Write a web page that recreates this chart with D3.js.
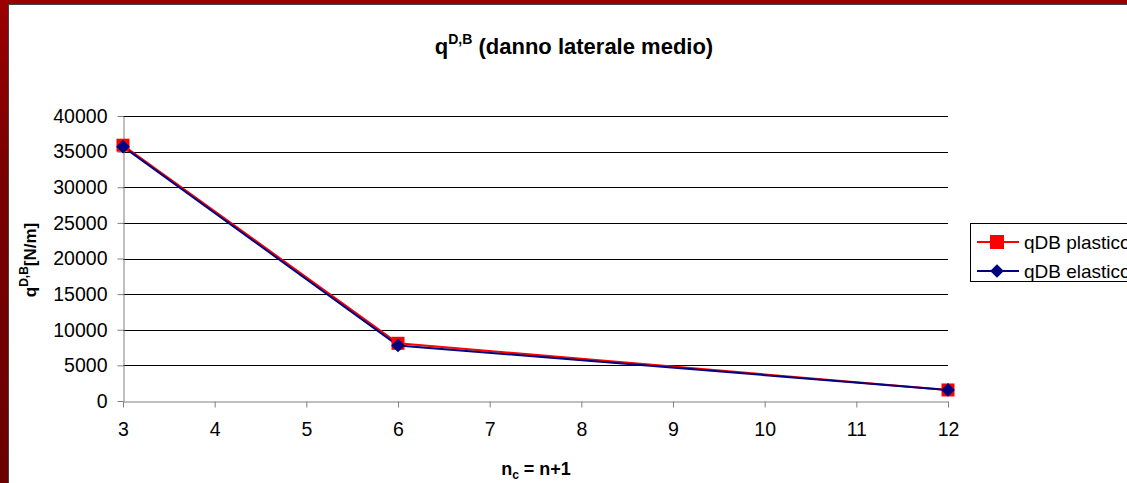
<!DOCTYPE html>
<html lang="en">
<head>
<meta charset="utf-8">
<title>qDB chart</title>
<script src="https://d3js.org/d3.v7.min.js"></script>
<style>
  body { margin: 0; background: #8b0000; overflow: hidden; }
  svg text { font-family: "Liberation Sans", Arial, sans-serif; }
</style>
</head>
<body>
<div id="chart"></div>
<script>
// data
var nValues = [3, 6, 12];
var qPlastico = [35900, 8100, 1550];
var qElastico = [35700, 7800, 1550];
var xTicks = [3, 4, 5, 6, 7, 8, 9, 10, 11, 12];
var yTicks = [0, 5000, 10000, 15000, 20000, 25000, 30000, 35000, 40000];
var seriesNames = ["qDB plastico", "qDB elastico"];

var W = 1127, H = 483;
var margin = {top: 116, right: 179, bottom: 82, left: 123},
    width = W - margin.left - margin.right,
    height = H - margin.top - margin.bottom;

var svg = d3.select("#chart").append("svg")
    .attr("width", W).attr("height", H);

// dark red frame, gradient down the side
var grad = svg.append("defs").append("linearGradient")
    .attr("id", "bg").attr("x1", 0).attr("y1", 0).attr("x2", 0).attr("y2", 1);
grad.append("stop").attr("offset", "0%").attr("stop-color", "#9a0000");
grad.append("stop").attr("offset", "35%").attr("stop-color", "#7a0000");
grad.append("stop").attr("offset", "100%").attr("stop-color", "#6a0000");
svg.append("rect").attr("width", W).attr("height", H).attr("fill", "url(#bg)");

// chart area
svg.append("rect")
    .attr("x", 8.5).attr("y", 4.5).attr("width", W).attr("height", H)
    .attr("fill", "#fff").attr("stroke", "#444").attr("stroke-width", 1);

var g = svg.append("g")
    .attr("transform", "translate(" + margin.left + "," + margin.top + ")");

var x = d3.scaleLinear().domain([3, 12]).range([0, width]);
var y = d3.scaleLinear().domain([0, 40000]).range([height, 0]);

// gridlines
g.selectAll(".grid").data(yTicks.filter(function(d){ return d > 0; }))
  .enter().append("line")
    .attr("x1", 0).attr("x2", width)
    .attr("y1", function(d){ return Math.round(y(d)) + 0.5; })
    .attr("y2", function(d){ return Math.round(y(d)) + 0.5; })
    .attr("stroke", "#000").attr("stroke-width", 1);

// axes
var yAxis = g.append("g")
    .attr("transform", "translate(0.5,0)")
    .call(d3.axisLeft(y).tickValues(yTicks).tickSize(6).tickSizeOuter(0).tickPadding(10)
      .tickFormat(d3.format("d")));
var xAxis = g.append("g")
    .attr("transform", "translate(0," + (height + 0.5) + ")")
    .call(d3.axisBottom(x).tickValues(xTicks).tickSize(6).tickSizeOuter(0).tickPadding(15)
      .tickFormat(d3.format("d")));
[yAxis, xAxis].forEach(function(a){
  a.select(".domain").attr("stroke", "#808080");
  a.selectAll(".tick line").attr("stroke", "#808080");
  a.selectAll(".tick text").attr("fill", "#000")
    .style("font-size", "19.5px").style("font-family", "Liberation Sans, Arial, sans-serif");
});

var line = d3.line()
    .x(function(d){ return x(d[0]); })
    .y(function(d){ return y(d[1]); });

var plastico = nValues.map(function(n, i){ return [n, qPlastico[i]]; });
var elastico = nValues.map(function(n, i){ return [n, qElastico[i]]; });

g.append("path").datum(plastico)
    .attr("fill", "none").attr("stroke", "#ff0000").attr("stroke-width", 2)
    .attr("d", line);
g.append("path").datum(elastico)
    .attr("fill", "none").attr("stroke", "#000080").attr("stroke-width", 2)
    .attr("d", line);

g.selectAll(".sq").data(plastico).enter().append("rect")
    .attr("x", function(d){ return x(d[0]) - 6.5; })
    .attr("y", function(d){ return y(d[1]) - 6.5; })
    .attr("width", 13).attr("height", 13)
    .attr("fill", "#ff0000");
var diamond = d3.symbol().type(d3.symbolDiamond2).size(120);
g.selectAll(".dm").data(elastico).enter().append("path")
    .attr("d", diamond)
    .attr("transform", function(d){ return "translate(" + x(d[0]) + "," + y(d[1]) + ")"; })
    .attr("fill", "#000080");

// title
var title = svg.append("text")
    .attr("x", 574).attr("y", 54)
    .attr("text-anchor", "middle")
    .style("font-size", "22px").style("font-weight", "bold");
title.append("tspan").text("q");
title.append("tspan").attr("dy", -10).style("font-size", "14px").text("D,B");
title.append("tspan").attr("dy", 10).text(" (danno laterale medio)");

// y label
var ylab = svg.append("text")
    .attr("transform", "translate(36,260) rotate(-90)")
    .attr("text-anchor", "middle")
    .style("font-size", "17px").style("font-weight", "bold");
ylab.append("tspan").text("q");
ylab.append("tspan").attr("dy", -8).style("font-size", "12px").text("D,B");
ylab.append("tspan").attr("dy", 8).text("[N/m]");

// x label
var xlab = svg.append("text")
    .attr("x", 536).attr("y", 475)
    .attr("text-anchor", "middle")
    .style("font-size", "18px").style("font-weight", "bold");
xlab.append("tspan").text("n");
xlab.append("tspan").attr("dy", 4).style("font-size", "12px").text("c");
xlab.append("tspan").attr("dy", -4).text(" = n+1");

// legend
var leg = svg.append("g").attr("transform", "translate(970,223)");
leg.append("rect").attr("x", 0.5).attr("y", 0.5).attr("width", 200).attr("height", 58)
    .attr("fill", "#fff").attr("stroke", "#000");
var colors = ["#ff0000", "#000080"];
seriesNames.forEach(function(name, i){
  var yy = 19 + i * 29;
  leg.append("line").attr("x1", 7).attr("x2", 49).attr("y1", yy).attr("y2", yy)
    .attr("stroke", colors[i]).attr("stroke-width", 2);
  if (i === 0) {
    leg.append("rect").attr("x", 20).attr("y", yy - 7).attr("width", 14).attr("height", 14)
      .attr("fill", colors[i]);
  } else {
    leg.append("path").attr("d", diamond).attr("transform", "translate(27," + yy + ")")
      .attr("fill", colors[i]);
  }
  leg.append("text").attr("x", 54).attr("y", yy + 7)
    .style("font-size", "19px").text(name);
});
</script>
</body>
</html>
